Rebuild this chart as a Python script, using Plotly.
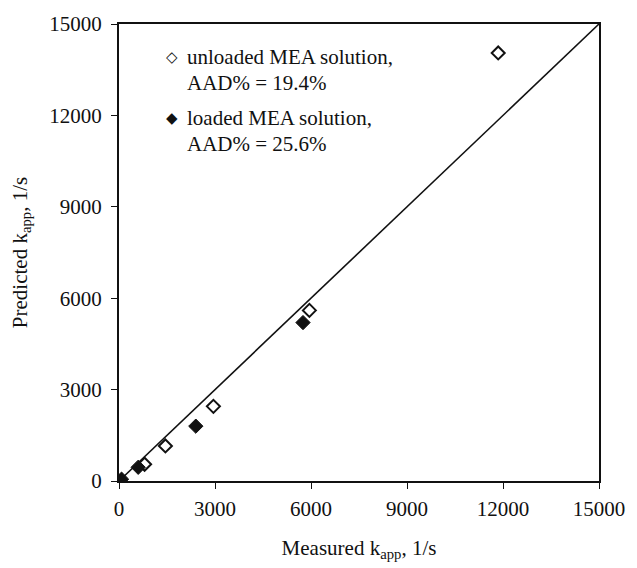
import plotly.graph_objects as go

# Measured vs predicted apparent rate constants (1/s)
unloaded_measured = [800, 1450, 2950, 5950, 11850]
unloaded_predicted = [550, 1150, 2450, 5600, 14050]

loaded_measured = [80, 600, 2400, 5750]
loaded_predicted = [60, 450, 1800, 5200]

parity = [0, 15000]
tick_vals = [0, 3000, 6000, 9000, 12000, 15000]

unloaded_label = ["unloaded MEA solution,", "AAD% = 19.4%"]
loaded_label = ["loaded MEA solution,", "AAD% = 25.6%"]

FONT = "Liberation Serif"
INK = "#111111"

fig = go.Figure()

# y = x parity line
fig.add_trace(go.Scatter(
    x=parity, y=parity, mode="lines",
    line=dict(color=INK, width=1.6),
    showlegend=False, hoverinfo="skip",
))

fig.add_trace(go.Scatter(
    x=unloaded_measured, y=unloaded_predicted, mode="markers",
    name=" ".join(unloaded_label), showlegend=False,
    marker=dict(symbol="diamond-open", size=10, color=INK,
                line=dict(width=2, color=INK)),
))

fig.add_trace(go.Scatter(
    x=loaded_measured, y=loaded_predicted, mode="markers",
    name=" ".join(loaded_label), showlegend=False,
    marker=dict(symbol="diamond", size=11, color=INK,
                line=dict(width=1, color=INK)),
))

axis_common = dict(
    range=[0, 15000],
    tickvals=tick_vals,
    ticktext=[str(v) for v in tick_vals],
    showgrid=False,
    zeroline=False,
    showline=True,
    linecolor=INK,
    linewidth=2,
    mirror=True,
    ticks="outside",
    ticklen=6,
    tickwidth=1,
    tickcolor=INK,
    tickfont=dict(family=FONT, size=21, color=INK),
)

fig.update_xaxes(
    **axis_common,
    ticklabelstandoff=2,
    title=dict(text="Measured k<sub>app</sub>, 1/s",
               font=dict(family=FONT, size=21, color=INK),
               standoff=20),
)
fig.update_yaxes(
    **axis_common,
    ticklabelstandoff=5,
    title=dict(text="Predicted k<sub>app</sub>, 1/s",
               font=dict(family=FONT, size=21, color=INK),
               standoff=16),
)

# legend block drawn as text: symbol glyph plus two label lines per series
legend_font = dict(family=FONT, size=21, color=INK)
entries = [("\u25C7", unloaded_label, 0.928, 0.870),
           ("\u25C6", loaded_label, 0.794, 0.737)]
for glyph, lines, y1, y2 in entries:
    fig.add_annotation(
        xref="paper", yref="paper", x=0.110, y=y1,
        text=glyph, showarrow=False, xanchor="center", yanchor="middle",
        font=dict(family="DejaVu Sans", size=15, color=INK),
    )
    for line, yy in zip(lines, (y1, y2)):
        fig.add_annotation(
            xref="paper", yref="paper", x=0.1385, y=yy,
            text=line, showarrow=False, xanchor="left", yanchor="middle",
            font=legend_font,
        )

fig.update_layout(
    width=637, height=568,
    margin=dict(l=119, r=28, t=21, b=76),
    paper_bgcolor="white",
    plot_bgcolor="white",
    showlegend=False,
)

fig.write_html("out.html")
